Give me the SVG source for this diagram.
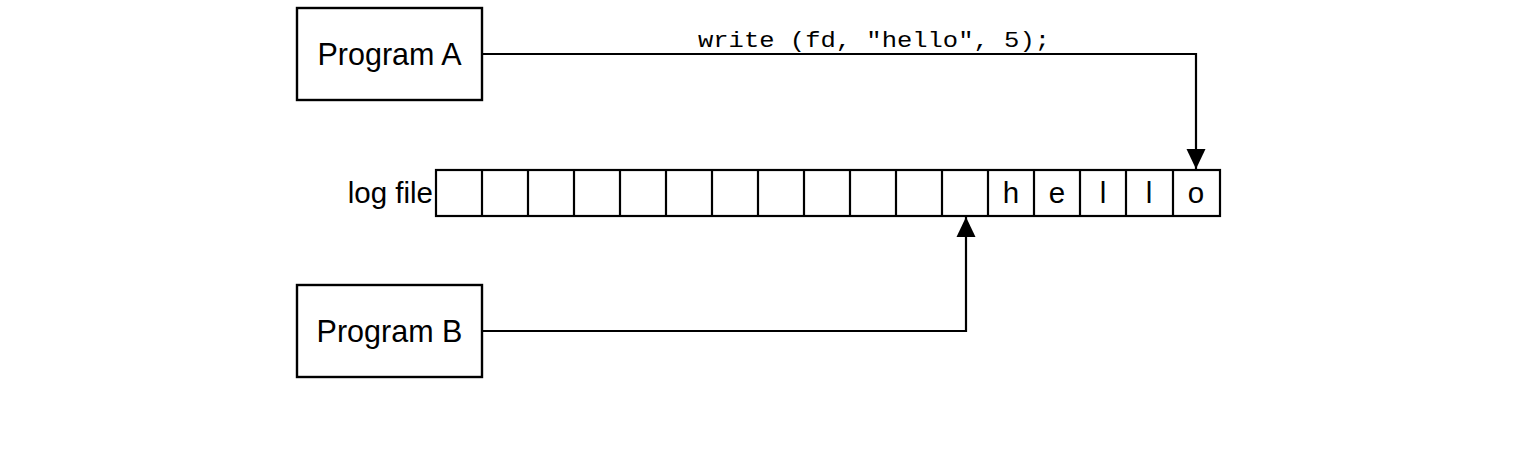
<svg xmlns="http://www.w3.org/2000/svg" width="1522" height="452" viewBox="0 0 1522 452">
<defs>
<style>
.box{fill:#fff;stroke:#000;stroke-width:2.4}
.cell{fill:#fff;stroke:#000;stroke-width:2.2}
.lbl{font-family:"Liberation Sans",Arial,sans-serif;font-size:29.5px;fill:#000}
.big{font-size:30.5px}
.code{font-family:"Liberation Mono","Courier New",monospace;font-size:22px;fill:#000}
.wire{fill:none;stroke:#000;stroke-width:2.2}
</style>
<marker id="arr" viewBox="0 0 20 26" refX="20" refY="13" markerWidth="20" markerHeight="26" markerUnits="userSpaceOnUse" orient="auto">
<path d="M0,3.5 L20,13 L0,22.5 Z" fill="#000"/>
</marker>
</defs>
<rect width="1522" height="452" fill="#fff"/>
<g id="programA">
<rect class="box" x="297" y="8" width="185" height="92"/>
<text class="lbl big" x="389.5" y="65" text-anchor="middle">Program A</text>
</g>
<g id="programB">
<rect class="box" x="297" y="285" width="185" height="92"/>
<text class="lbl big" x="389.5" y="342" text-anchor="middle">Program B</text>
</g>
<g id="logfile">
<text class="lbl" x="433" y="203" text-anchor="end">log file</text>
<rect class="cell" x="436" y="170" width="784" height="46"/>
<path class="wire" d="M482,170V216M528,170V216M574,170V216M620,170V216M666,170V216M712,170V216M758,170V216M804,170V216M850,170V216M896,170V216M942,170V216M988,170V216M1034,170V216M1080,170V216M1126,170V216M1173,170V216"/>
<text class="lbl" x="1011" y="203" text-anchor="middle">h</text>
<text class="lbl" x="1057" y="203" text-anchor="middle">e</text>
<text class="lbl" x="1103" y="203" text-anchor="middle">l</text>
<text class="lbl" x="1149" y="203" text-anchor="middle">l</text>
<text class="lbl" x="1196" y="203" text-anchor="middle">o</text>
</g>
<g id="connectors">
<path class="wire" d="M482,54H1196V169" marker-end="url(#arr)"/>
<text class="code" x="698" y="47" textLength="352" lengthAdjust="spacingAndGlyphs">write (fd, "hello", 5);</text>
<path class="wire" d="M482,331H966V217" marker-end="url(#arr)"/>
</g>
</svg>
